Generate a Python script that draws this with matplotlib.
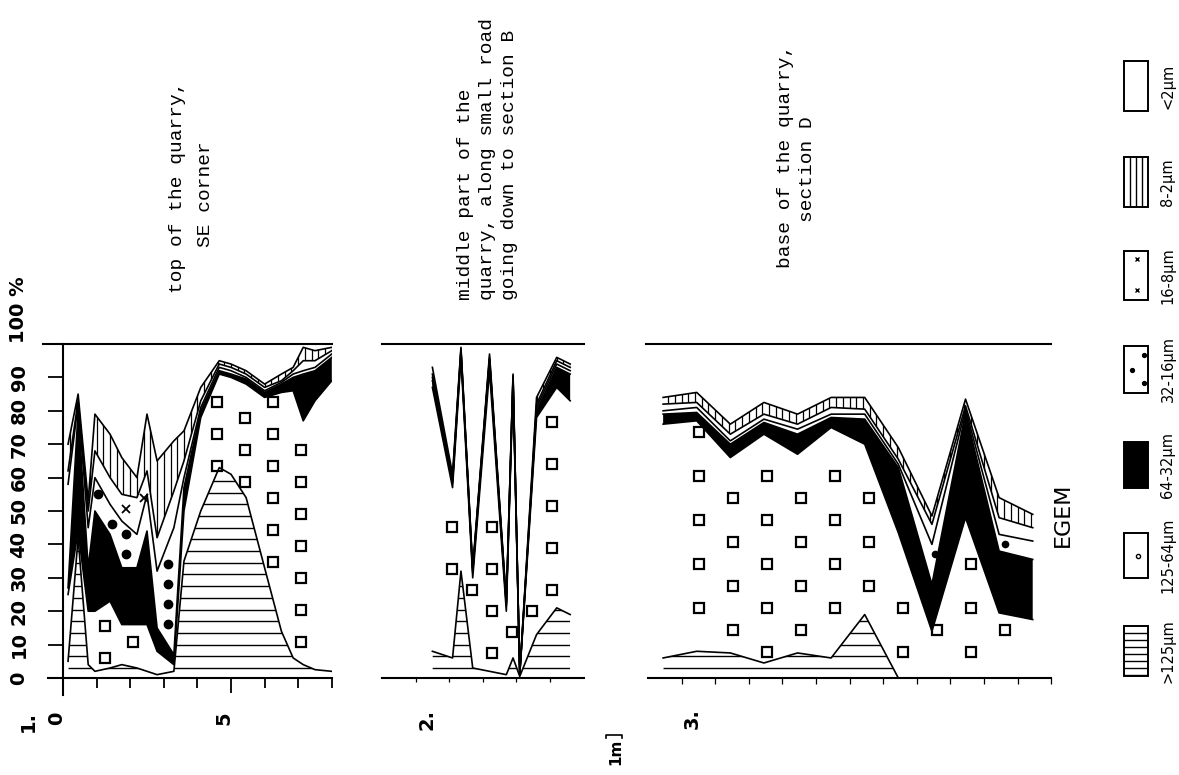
import numpy as np
import matplotlib
matplotlib.use("Agg")
import matplotlib.pyplot as plt
from matplotlib.patches import Rectangle

W, H = 1179, 775
PX_M = 33.6          # pixels per metre along the sections
Y0, Y100 = 678, 344  # pixel rows of 0 % and 100 %

# grain size fractions, coarse to fine = bottom to top of each column
classes = ['>125µm', '125-64µm', '64-32µm', '32-16µm', '16-8µm', '8-2µm', '<2µm']

# section 1: top of the quarry, SE corner
# distance (m) and cumulative % coarser than 125, 64, 32, 16, 8, 2 µm
p1_dist = [0.15, 0.45, 0.75, 0.95, 1.4, 1.75, 2.2, 2.5, 2.8, 3.3, 3.6,
           4.1, 4.65, 5.0, 5.45, 6.0, 6.5, 6.85, 7.15, 7.5, 8.0]
p1_gt125 = [5, 42, 4, 2, 3, 4, 3, 2, 1, 2, 35, 50, 63, 61, 54, 33, 14, 6, 4, 2.5, 2]
p1_gt64 = [25, 44, 20, 20, 23, 16, 16, 16, 8, 4, 50, 78, 91, 90, 88, 84, 85.5, 86, 77, 83, 89]
p1_gt32 = [27, 80, 33, 50, 43, 33, 33, 44, 15, 7, 57, 80, 92, 91, 89.5, 85.5, 88, 90, 91, 92, 96]
p1_gt16 = [58, 82, 45, 60, 52, 47, 43, 55, 32, 45, 60, 81, 93, 92, 90, 86, 88.5, 91, 92, 93, 97]
p1_gt8 = [62, 83, 50, 68, 60, 55, 54, 62, 42, 56, 65, 83, 94, 93, 91, 87, 89, 92, 95, 95, 98]
p1_gt2 = [70, 85, 53, 79, 73, 66, 60, 79, 65, 71, 74, 87, 95, 94, 92, 88, 91, 93, 99, 98, 99]

# section 2: middle part of the quarry
p2_dist = [1.5, 2.1, 2.35, 2.7, 3.2, 3.7, 3.9, 4.1, 4.6, 5.2, 5.6]
p2_gt125 = [8, 6, 32, 3, 2, 1, 6, 0.5, 13, 21, 19]
p2_gt64 = [87, 57, 96, 30, 92, 20, 88, 1, 78, 87, 83]
p2_gt32 = [89, 58.5, 97.5, 31.5, 95, 21.5, 89.5, 1.2, 80, 93, 91]
p2_gt16 = [90, 59, 98, 32, 95.5, 22, 90, 1.3, 81, 94, 92]
p2_gt8 = [91, 60, 98.5, 32.5, 96, 22.5, 90.5, 1.4, 82, 95, 93]
p2_gt2 = [93, 61, 99, 33, 97, 23, 91, 1.5, 84, 96, 94]

# section 3: base of the quarry, section D
p3_dist = [0.45, 1.45, 2.45, 3.45, 4.45, 5.45, 6.45, 7.45, 8.45, 9.45, 10.45, 11.45]
p3_gt125 = [6, 8, 7.5, 4.5, 7.5, 6, 19, 0, 0, 0, 0, 0]
p3_gt64 = [76, 77, 66, 73, 67, 75, 70, 43.5, 14, 48, 19.5, 17.5]
p3_gt32 = [79, 79.5, 70, 76.5, 73, 78, 77.5, 63, 28, 79.5, 38, 35.5]
p3_gt16 = [80, 81, 71, 77.5, 74.5, 79, 79, 64, 40, 80.5, 43, 41]
p3_gt8 = [82, 82.5, 73, 79, 76, 81, 80.5, 65.5, 46, 81.5, 48, 45]
p3_gt2 = [84, 85.5, 76, 82.5, 79, 84, 84, 69, 48.5, 83.5, 54, 49]

MONO = ['Liberation Mono', 'DejaVu Sans Mono']
SANS = ['Liberation Sans Narrow', 'DejaVu Sans']

fig = plt.figure(figsize=(W / 100, H / 100), dpi=100)

# overlay in pixel coordinates for the free text and the legend
ov = fig.add_axes([0, 0, 1, 1])
ov.set_xlim(0, W)
ov.set_ylim(H, 0)
ov.axis('off')


def make_ax(left_px, n_m):
    ax = fig.add_axes([left_px / W, (H - Y0) / H, n_m * PX_M / W, (Y0 - Y100) / H])
    ax.set_xlim(0, n_m)
    ax.set_ylim(0, 100)
    ax.patch.set_visible(False)
    for s in ax.spines.values():
        s.set_visible(False)
        s.set_linewidth(1.5)
    return ax


def grid_in(ax, path, dx, dy, margin):
    # staggered grid of symbol positions that fall inside a filled band
    disp = ax.transData.transform_path(path)
    bb = ax.bbox
    pts = []
    for j, x in enumerate(np.arange(bb.x0 + dx / 2, bb.x1, dx)):
        off = (dy / 2) * (j % 2)
        for y in np.arange(bb.y0 + 4 + off, bb.y1, dy):
            pts.append((x, y))
    pts = np.array(pts)
    ok = np.ones(len(pts), bool)
    for o in [(0, 0), (margin, 0), (-margin, 0), (0, margin), (0, -margin)]:
        ok &= disp.contains_points(pts + np.array(o))
    if not ok.any():
        return np.empty((0, 2))
    return ax.transData.inverted().transform(pts[ok])


def draw_column(ax, dist, bounds, sq_grid, dot_ms):
    dist = np.asarray(dist, float)
    bounds = [np.asarray(b, float) for b in bounds]
    levels = [np.zeros_like(dist)] + bounds + [np.full_like(dist, 100.0)]
    for k in range(len(classes)):
        coll = ax.fill_between(dist, levels[k], levels[k + 1], lw=0,
                               facecolor='black' if k == 2 else 'white', zorder=1)
        path = coll.get_paths()[0]
        if k == 0:
            hl = ax.hlines(np.arange(3, 100, 3.5), dist[0], dist[-1], color='black', lw=1.0, zorder=2)
            hl.set_clip_path(path, ax.transData)
        elif k == 1:
            p = grid_in(ax, path, sq_grid[0], sq_grid[1], 6)
            ax.plot(p[:, 0], p[:, 1], 's', ms=7.3, mfc='white', mec='black', mew=1.6, zorder=3)
        elif k == 3:
            p = grid_in(ax, path, 14, 20, dot_ms * 0.6)
            ax.plot(p[:, 0], p[:, 1], 'o', ms=dot_ms, color='black', zorder=3)
        elif k == 4:
            p = grid_in(ax, path, 18, 22, 4)
            ax.plot(p[:, 0], p[:, 1], 'x', ms=dot_ms, mew=1.3, color='black', zorder=3)
        elif k == 5:
            vl = ax.vlines(np.arange(0, dist[-1] + 0.2, 0.2), 0, 100, color='black', lw=0.9, zorder=2)
            vl.set_clip_path(path, ax.transData)
    for b in bounds:
        ax.plot(dist, b, color='black', lw=1.2, zorder=4)


# panel 1
ax1 = make_ax(63, 8)
draw_column(ax1, p1_dist, [p1_gt125, p1_gt64, p1_gt32, p1_gt16, p1_gt8, p1_gt2], (28, 32), 6)
for side, lo, hi in [('left', -5, 100), ('bottom', -0.45, 8), ('top', -0.6, 8)]:
    ax1.spines[side].set_visible(True)
    ax1.spines[side].set_bounds(lo, hi)
ax1.set_yticks(range(0, 101, 10))
ax1.set_xticks([1, 2, 3, 4, 6, 7, 8])
ax1.set_xticks([5], minor=True)
ax1.tick_params(axis='y', direction='out', length=11, width=1.3, labelleft=False)
ax1.tick_params(axis='x', which='major', direction='out', length=7, width=1.3, labelbottom=False)
ax1.tick_params(axis='x', which='minor', direction='out', length=11, width=1.3, labelbottom=False)

# panel 2
ax2 = make_ax(382, 6)
draw_column(ax2, p2_dist, [p2_gt125, p2_gt64, p2_gt32, p2_gt16, p2_gt8, p2_gt2], (20, 42), 5)
for side in ['top', 'bottom']:
    ax2.spines[side].set_visible(True)
ax2.set_yticks([])
ax2.set_xticks(range(1, 6))
ax2.tick_params(axis='x', direction='out', length=3, width=0.9, labelbottom=False)

# panel 3
ax3 = make_ax(648, 12)
draw_column(ax3, p3_dist, [p3_gt125, p3_gt64, p3_gt32, p3_gt16, p3_gt8, p3_gt2], (34, 44), 4.5)
ax3.spines['top'].set_visible(True)
ax3.spines['top'].set_bounds(-0.06, 12)
ax3.spines['bottom'].set_visible(True)
ax3.set_yticks([])
ax3.set_xticks(range(1, 13))
ax3.tick_params(axis='x', direction='out', length=4, width=0.9, labelbottom=False)

# axis numbers of panel 1 (rotated like the rest of the page)
num = dict(rotation=90, family=SANS, fontweight='bold', fontsize=14)
for v in range(0, 100, 10):
    ov.text(19, Y0 - (Y0 - Y100) * v / 100, str(v), ha='center', va='center', **num)
ov.text(19, Y100 - 1, '100 %', ha='center', va='bottom', **num)
ov.text(57, 718, '0', ha='center', va='center', **num)
ov.text(224, 718, '5', ha='center', va='center', **num)
ov.text(28, 722, '1.', ha='center', va='center', **num)
ov.text(427, 719, '2.', ha='center', va='center', **num)
ov.text(692, 719, '3.', ha='center', va='center', **num)

# scale bar
ov.plot([606, 606, 622, 622], [738, 735, 735, 738], color='black', lw=1.2)
ov.text(616, 752, '1m', rotation=90, ha='center', va='center', family=SANS, fontweight='bold', fontsize=11)

# section captions
cap = dict(rotation=90, family=MONO, fontsize=14, ha='center', va='bottom')
for txt, x, y in [('top of the quarry,', 178, 293), ('SE corner', 206, 247),
                  ('middle part of the', 466, 300), ('quarry, along small road', 487, 300),
                  ('going down to section B', 509, 300),
                  ('base of the quarry,', 786, 268), ('section D', 808, 222)]:
    ov.text(x, y, txt, **cap)

ov.text(1063, 515, 'EGEM', rotation=90, ha='center', va='center', family=['DejaVu Sans'], fontsize=16)

# legend
leg_y = [(61, 111), (157, 207), (251, 300), (346, 393), (442, 488), (533, 578), (626, 676)]
leg_names = classes[::-1]
for name, (ya, yb) in zip(leg_names, leg_y):
    filled = name == '64-32µm'
    ov.add_patch(Rectangle((1124, ya), 24, yb - ya, facecolor='black' if filled else 'white',
                           edgecolor='black', lw=1.4, zorder=2))
    yc = (ya + yb) / 2
    if name == '8-2µm':
        ov.vlines([1130, 1136, 1142], ya, yb, color='black', lw=1.0, zorder=3)
    elif name == '16-8µm':
        ov.plot([1137, 1137], [ya + 8, yb - 10], 'x', ms=3, mew=1.0, color='black', zorder=3)
    elif name == '32-16µm':
        ov.plot([1144, 1132, 1144], [ya + 9, yc, yb - 10], 'o', ms=2.8, color='black', zorder=3)
    elif name == '125-64µm':
        ov.plot([1138], [yc], 'o', ms=3, mfc='white', mec='black', mew=1.0, zorder=3)
    elif name == '>125µm':
        ov.hlines(np.arange(ya + 7, yb, 7), 1124, 1148, color='black', lw=1.0, zorder=3)
    ov.text(1168, yc, name, rotation=90, ha='center', va='center', family=SANS, fontsize=10.5)

fig.savefig('out.png', dpi=100)
